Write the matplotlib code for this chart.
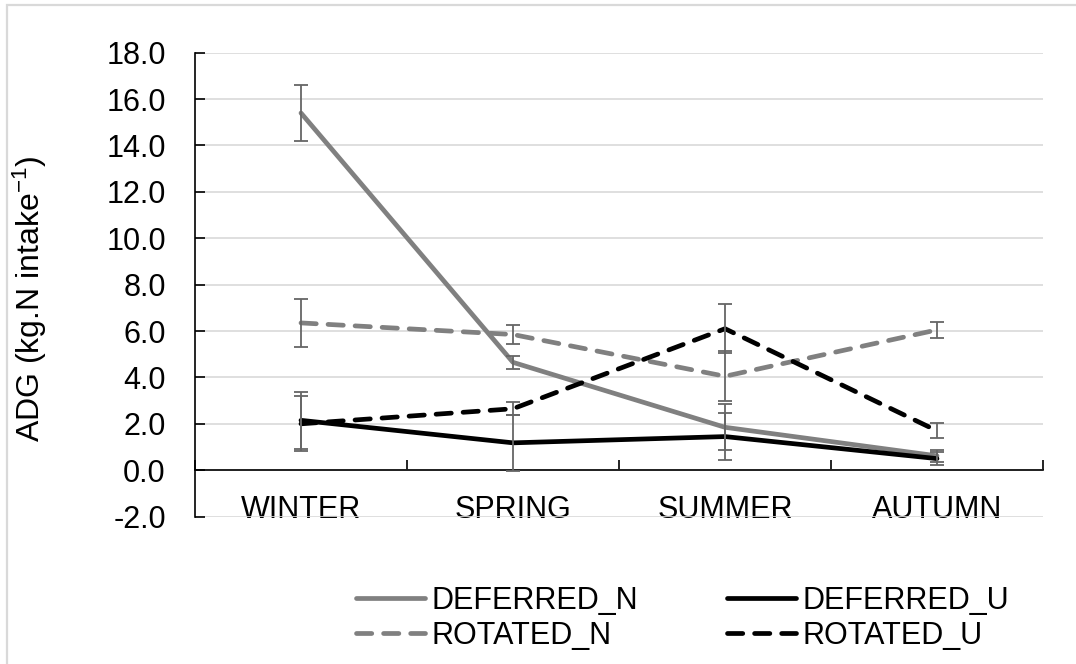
import numpy as np
import matplotlib
matplotlib.use("Agg")
import matplotlib.pyplot as plt
from matplotlib.patches import Rectangle
from matplotlib.ticker import FormatStrFormatter

plt.rcParams['font.family'] = ['Liberation Sans', 'DejaVu Sans']
plt.rcParams['mathtext.default'] = 'regular'
plt.rcParams['lines.scale_dashes'] = False

# data
seasons = ['WINTER', 'SPRING', 'SUMMER', 'AUTUMN']
deferred_n = [15.4, 4.65, 1.85, 0.62]
deferred_n_err = [1.2, 0.27, 1.0, 0.27]
deferred_u = [2.15, 1.18, 1.45, 0.5]
deferred_u_err = [1.23, 1.22, 1.02, 0.28]
rotated_n = [6.35, 5.85, 4.05, 6.05]
rotated_n_err = [1.03, 0.42, 1.08, 0.36]
rotated_u = [2.0, 2.65, 6.1, 1.7]
rotated_u_err = [1.18, 0.28, 1.05, 0.33]
y_ticks = np.arange(-2, 18.1, 2)

W, H = 1076, 664
fig = plt.figure(figsize=(W / 100, H / 100), dpi=100)

# light outer frame (cut at right / bottom like the reference)
fig.patches.append(Rectangle((7 / W, -0.2), 1.2, 1.2 - 5 / H,
                             transform=fig.transFigure, fill=False,
                             edgecolor='#d9d9d9', linewidth=1.6))

ax = fig.add_axes([195 / W, 1 - 516.6 / H, 848 / W, 463.9 / H])
x = np.arange(len(seasons))

series = [
    ('DEFERRED_N', deferred_n, deferred_n_err, '#808080', '-'),
    ('ROTATED_N', rotated_n, rotated_n_err, '#808080', '--'),
    ('DEFERRED_U', deferred_u, deferred_u_err, '#000000', '-'),
    ('ROTATED_U', rotated_u, rotated_u_err, '#000000', '--'),
]

handles = []
for name, vals, errs, col, ls in series:
    line, = ax.plot(x, vals, color=col, linewidth=3.4, solid_capstyle='round',
                    dash_capstyle='round', label=name, zorder=3)
    if ls == '--':
        line.set_dashes((11, 8.5))
    handles.append(line)
    ax.errorbar(x, vals, yerr=errs, fmt='none', ecolor='#666666',
                elinewidth=1.3, capsize=5, capthick=1.3, zorder=4)

ax.set_xlim(-0.5, 3.5)
ax.set_ylim(-2, 18)
ax.set_yticks(y_ticks)
ax.yaxis.set_major_formatter(FormatStrFormatter('%.1f'))
ax.grid(axis='y', color='#d9d9d9', linewidth=1.2, zorder=0)
ax.set_axisbelow(True)

for s in ['top', 'right']:
    ax.spines[s].set_visible(False)
ax.spines['bottom'].set_position(('data', 0))
ax.spines['bottom'].set_linewidth(1.2)
ax.spines['left'].set_linewidth(1.2)

# category boundaries as ticks, names as minor ticks
ax.set_xticks(np.arange(-0.5, 3.6, 1))
ax.set_xticklabels([])
ax.set_xticks(x, minor=True)
ax.set_xticklabels(seasons, minor=True, fontsize=22)
ax.tick_params(axis='x', which='major', direction='in', length=7, width=1.2)
ax.tick_params(axis='x', which='minor', length=0, pad=18)
ax.tick_params(axis='y', direction='in', length=7, width=1.2, labelsize=22, pad=21)

ax.set_ylabel('ADG (kg.N intake$^{\\mathregular{-1}}$)', fontsize=23, va='center')
ax.yaxis.set_label_coords(-0.195, 0.47)

fig.legend(handles=handles, ncol=2, loc='upper left',
           bbox_to_anchor=(356 / W, 1 - 586 / H), frameon=False,
           fontsize=22, handlelength=2.27, handletextpad=0.2,
           columnspacing=2.9, labelspacing=0.15, borderaxespad=0,
           borderpad=0)

fig.savefig('out.png', dpi=100, facecolor='white')
